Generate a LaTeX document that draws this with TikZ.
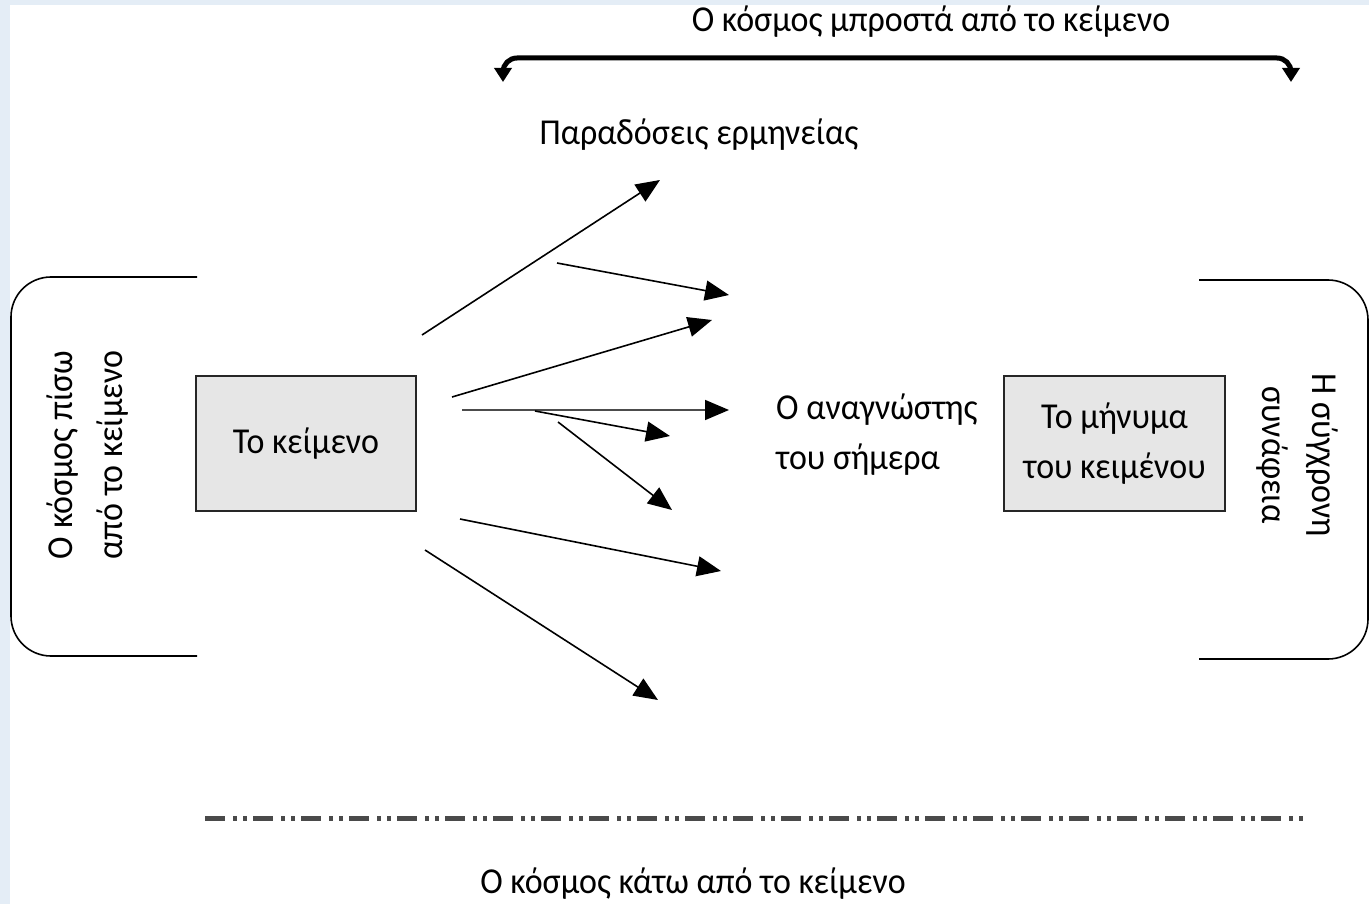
\documentclass[tikz,border=0pt]{standalone}
\usepackage{fontspec}
\setmainfont{Carlito}[FakeStretch=0.93]
\usetikzlibrary{arrows.meta}
\definecolor{bgblue}{HTML}{E4EDF6}
\definecolor{boxgray}{HTML}{E6E6E6}
\definecolor{linegray}{HTML}{4A4A4A}
\tikzset{
  txt/.style={inner sep=0pt, font=\fontsize{36.5}{50}\selectfont, text=black},
  textbox/.style={draw=black!85, line width=1.6pt, fill=boxgray, minimum width=220pt, minimum height=135pt, inner sep=0pt, font=\fontsize{36.5}{50}\selectfont, align=center},
  fan/.style={line width=1.6pt, -{Triangle[length=24pt,width=20pt,color=black]}},
  bracketline/.style={line width=1.6pt, rounded corners=40pt},
  brace/.style={line width=5pt, rounded corners=14pt, {Triangle[length=14pt,width=17pt]}-{Triangle[length=14pt,width=17pt]}},
  dashdot/.style={line width=5pt, linegray, dash pattern=on 20pt off 8pt on 4pt off 6pt on 4pt off 6pt}
}
\begin{document}
\begin{tikzpicture}[x=1pt, y=-1pt]
\useasboundingbox (0,0) rectangle (1369,904);
\fill[bgblue] (0,0) rectangle (1369,904);
\fill[white] (10,5) rectangle (1369,904);

% top brace
\node[txt] (front) at (931,22) {Ο κόσμος μπροστά από το κείμενο};
\coordinate (bl) at (503,82);
\coordinate (br) at (1291,82);
\draw[brace] (bl) -- (503,58) -- (1291,58) -- (br);

\node[txt] (trad) at (699,135) {Παραδόσεις ερμηνείας};

% left bracket
\coordinate (lt) at (197,277);
\coordinate (lb) at (197,656);
\draw[bracketline] (lt) -- (11,277) -- (11,656) -- (lb);
\node[txt, rotate=90, align=center] (behind) at (88,455) {Ο κόσμος πίσω\\από το κείμενο};

% right bracket
\coordinate (rt) at (1199,280);
\coordinate (rb) at (1199,659);
\draw[bracketline] (rt) -- (1368,280) -- (1368,659) -- (rb);
\node[txt, rotate=-90, align=center] (context) at (1297,455) {Η σύγχρονη\\συνάφεια};

% boxes
\node[textbox] (text) at (306,443.5) {Το κείμενο};
\node[textbox, minimum width=221pt] (message) at (1114.5,443.5) {Το μήνυμα\\του κειμένου};
\node[txt, align=left, anchor=west] (reader) at (776,435) {Ο αναγνώστης\\του σήμερα};

% fan of arrows
\coordinate (a1s) at (422,335); \coordinate (a1e) at (660,180);
\coordinate (a2s) at (557,263); \coordinate (a2e) at (729,295);
\coordinate (a3s) at (452,397); \coordinate (a3e) at (712,320);
\coordinate (a4s) at (462,410); \coordinate (a4e) at (729,410);
\coordinate (a5s) at (535,411); \coordinate (a5e) at (670,436);
\coordinate (a6s) at (558,422); \coordinate (a6e) at (672,510);
\coordinate (a7s) at (460,519); \coordinate (a7e) at (721,571);
\coordinate (a8s) at (425,550); \coordinate (a8e) at (658,700);
\draw[fan] (a1s) -- (a1e);
\draw[fan] (a2s) -- (a2e);
\draw[fan] (a3s) -- (a3e);
\draw[fan, draw=black!70] (a4s) -- (a4e);
\draw[fan] (a5s) -- (a5e);
\draw[fan] (a6s) -- (a6e);
\draw[fan] (a7s) -- (a7e);
\draw[fan] (a8s) -- (a8e);

% dash-dot line
\coordinate (dl) at (205,818);
\coordinate (dr) at (1303,818);
\draw[dashdot] (dl) -- (dr);
\node[txt] (below) at (693,884) {Ο κόσμος κάτω από το κείμενο};
\end{tikzpicture}
\end{document}
